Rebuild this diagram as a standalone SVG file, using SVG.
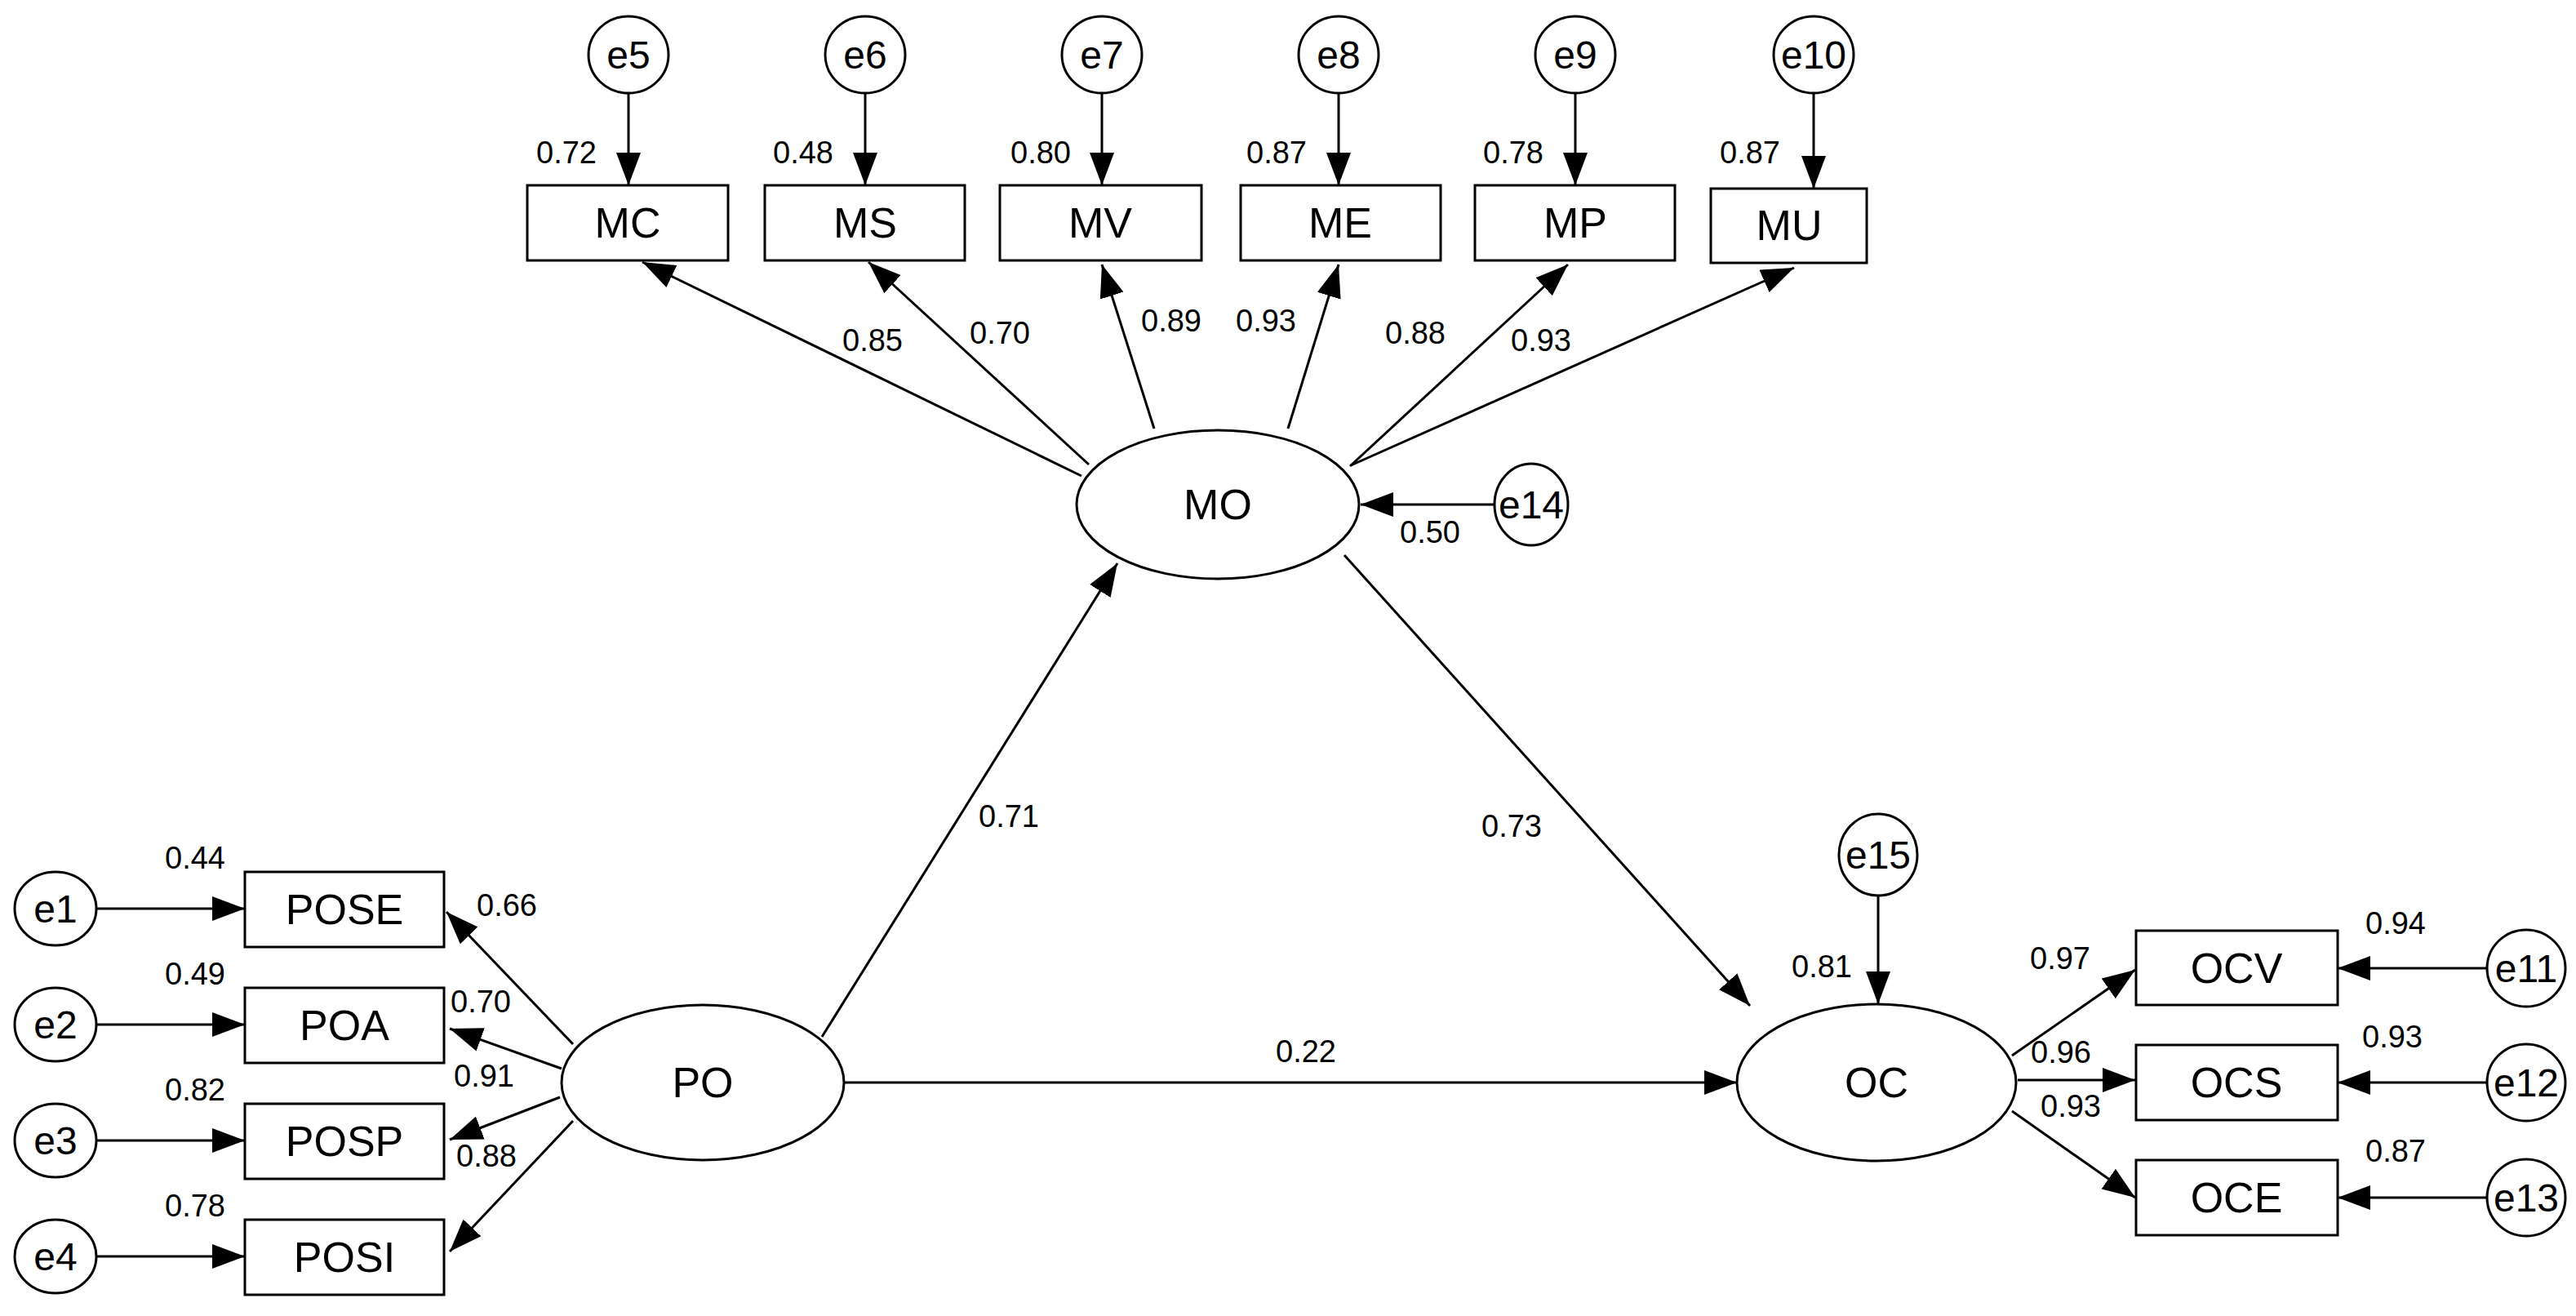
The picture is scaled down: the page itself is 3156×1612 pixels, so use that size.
<svg xmlns="http://www.w3.org/2000/svg" width="3156" height="1612" viewBox="0 0 3156 1612">
<style>
.n{fill:#fff;stroke:#000;stroke-width:3}
.t{font-family:"Liberation Sans",Arial,sans-serif;font-size:52px;text-anchor:middle;dominant-baseline:central;fill:#000}
.e{font-family:"Liberation Sans",Arial,sans-serif;font-size:48px;text-anchor:middle;dominant-baseline:central;fill:#000}
.l{font-family:"Liberation Sans",Arial,sans-serif;font-size:38px;text-anchor:middle;dominant-baseline:central;fill:#000}
.c line{stroke:#000;stroke-width:3;marker-end:url(#a)}
</style>
<defs><marker id="a" markerUnits="userSpaceOnUse" markerWidth="42" markerHeight="30" refX="40" refY="15" orient="auto"><path d="M0,0 L40,15 L0,30 z" fill="#000"/></marker></defs>
<rect width="3156" height="1612" fill="#fff"/>
<g class="c" id="connectors">
<line x1="770" y1="114" x2="770" y2="227"/>
<line x1="1060" y1="114" x2="1060" y2="227"/>
<line x1="1350" y1="114" x2="1350" y2="227"/>
<line x1="1640" y1="114" x2="1640" y2="227"/>
<line x1="1930" y1="114" x2="1930" y2="227"/>
<line x1="2222" y1="114" x2="2222" y2="231"/>
<line x1="1325" y1="583" x2="787" y2="321"/>
<line x1="1334" y1="569" x2="1064" y2="321"/>
<line x1="1414" y1="525" x2="1350" y2="324"/>
<line x1="1578" y1="525" x2="1640" y2="324"/>
<line x1="1654" y1="571" x2="1921" y2="324"/>
<line x1="1655" y1="570" x2="2198" y2="328"/>
<line x1="1831" y1="618" x2="1667" y2="618"/>
<line x1="118" y1="1113" x2="300" y2="1113"/>
<line x1="118" y1="1255" x2="300" y2="1255"/>
<line x1="118" y1="1397" x2="300" y2="1397"/>
<line x1="118" y1="1539" x2="300" y2="1539"/>
<line x1="702" y1="1279" x2="547" y2="1117"/>
<line x1="688" y1="1309" x2="551" y2="1260"/>
<line x1="686" y1="1344" x2="551" y2="1396"/>
<line x1="702" y1="1373" x2="551" y2="1533"/>
<line x1="1007" y1="1270" x2="1369" y2="690"/>
<line x1="1033" y1="1326" x2="2128" y2="1326"/>
<line x1="1647" y1="680" x2="2144" y2="1232"/>
<line x1="2301" y1="1097" x2="2301" y2="1230"/>
<line x1="2465" y1="1293" x2="2616" y2="1188"/>
<line x1="2472" y1="1323" x2="2616" y2="1323"/>
<line x1="2465" y1="1361" x2="2616" y2="1467"/>
<line x1="3047" y1="1186" x2="2864" y2="1186"/>
<line x1="3047" y1="1326" x2="2864" y2="1326"/>
<line x1="3047" y1="1467" x2="2864" y2="1467"/>
</g>
<g id="e5"><ellipse class="n" cx="770" cy="67" rx="49" ry="47"/><text class="e" x="770" y="67">e5</text></g>
<g id="e6"><ellipse class="n" cx="1060" cy="67" rx="49" ry="47"/><text class="e" x="1060" y="67">e6</text></g>
<g id="e7"><ellipse class="n" cx="1350" cy="67" rx="49" ry="47"/><text class="e" x="1350" y="67">e7</text></g>
<g id="e8"><ellipse class="n" cx="1640" cy="67" rx="49" ry="47"/><text class="e" x="1640" y="67">e8</text></g>
<g id="e9"><ellipse class="n" cx="1930" cy="67" rx="49" ry="47"/><text class="e" x="1930" y="67">e9</text></g>
<g id="e10"><ellipse class="n" cx="2222" cy="67" rx="49" ry="47"/><text class="e" x="2222" y="67">e10</text></g>
<g id="MC"><rect class="n" x="646" y="227" width="246" height="92"/><text class="t" x="769" y="273">MC</text></g>
<g id="MS"><rect class="n" x="937" y="227" width="245" height="92"/><text class="t" x="1060" y="273">MS</text></g>
<g id="MV"><rect class="n" x="1225" y="227" width="247" height="92"/><text class="t" x="1348" y="273">MV</text></g>
<g id="ME"><rect class="n" x="1520" y="227" width="245" height="92"/><text class="t" x="1642" y="273">ME</text></g>
<g id="MP"><rect class="n" x="1807" y="227" width="245" height="92"/><text class="t" x="1930" y="273">MP</text></g>
<g id="MU"><rect class="n" x="2096" y="231" width="191" height="91"/><text class="t" x="2192" y="276">MU</text></g>
<g id="MO"><ellipse class="n" cx="1492" cy="618" rx="173" ry="91"/><text class="t" x="1492" y="618">MO</text></g>
<g id="e14"><ellipse class="n" cx="1876" cy="618" rx="45" ry="50"/><text class="e" x="1876" y="618">e14</text></g>
<g id="PO"><ellipse class="n" cx="861" cy="1326" rx="173" ry="95"/><text class="t" x="861" y="1326">PO</text></g>
<g id="OC"><ellipse class="n" cx="2299" cy="1326" rx="171" ry="96"/><text class="t" x="2299" y="1326">OC</text></g>
<g id="e15"><ellipse class="n" cx="2301" cy="1047" rx="48" ry="50"/><text class="e" x="2301" y="1047">e15</text></g>
<g id="e1"><ellipse class="n" cx="68" cy="1113" rx="50" ry="45"/><text class="e" x="68" y="1113">e1</text></g>
<g id="e2"><ellipse class="n" cx="68" cy="1255" rx="50" ry="45"/><text class="e" x="68" y="1255">e2</text></g>
<g id="e3"><ellipse class="n" cx="68" cy="1397" rx="50" ry="45"/><text class="e" x="68" y="1397">e3</text></g>
<g id="e4"><ellipse class="n" cx="68" cy="1539" rx="50" ry="45"/><text class="e" x="68" y="1539">e4</text></g>
<g id="POSE"><rect class="n" x="300" y="1068" width="244" height="92"/><text class="t" x="422" y="1114">POSE</text></g>
<g id="POA"><rect class="n" x="300" y="1210" width="244" height="92"/><text class="t" x="422" y="1256">POA</text></g>
<g id="POSP"><rect class="n" x="300" y="1352" width="244" height="92"/><text class="t" x="422" y="1398">POSP</text></g>
<g id="POSI"><rect class="n" x="300" y="1494" width="244" height="92"/><text class="t" x="422" y="1540">POSI</text></g>
<g id="OCV"><rect class="n" x="2617" y="1140" width="247" height="91"/><text class="t" x="2740" y="1186">OCV</text></g>
<g id="OCS"><rect class="n" x="2617" y="1280" width="247" height="92"/><text class="t" x="2740" y="1326">OCS</text></g>
<g id="OCE"><rect class="n" x="2617" y="1421" width="247" height="92"/><text class="t" x="2740" y="1467">OCE</text></g>
<g id="e11"><ellipse class="n" cx="3095" cy="1186" rx="48" ry="47"/><text class="e" x="3095" y="1186">e11</text></g>
<g id="e12"><ellipse class="n" cx="3095" cy="1326" rx="48" ry="47"/><text class="e" x="3095" y="1326">e12</text></g>
<g id="e13"><ellipse class="n" cx="3095" cy="1467" rx="48" ry="47"/><text class="e" x="3095" y="1467">e13</text></g>
<g id="labels">
<text class="l" x="694" y="187">0.72</text>
<text class="l" x="984" y="187">0.48</text>
<text class="l" x="1275" y="187">0.80</text>
<text class="l" x="1564" y="187">0.87</text>
<text class="l" x="1854" y="187">0.78</text>
<text class="l" x="2144" y="187">0.87</text>
<text class="l" x="1069" y="417">0.85</text>
<text class="l" x="1225" y="408">0.70</text>
<text class="l" x="1435" y="393">0.89</text>
<text class="l" x="1551" y="393">0.93</text>
<text class="l" x="1734" y="408">0.88</text>
<text class="l" x="1888" y="417">0.93</text>
<text class="l" x="1752" y="652">0.50</text>
<text class="l" x="239" y="1051">0.44</text>
<text class="l" x="239" y="1193">0.49</text>
<text class="l" x="239" y="1335">0.82</text>
<text class="l" x="239" y="1477">0.78</text>
<text class="l" x="621" y="1109">0.66</text>
<text class="l" x="589" y="1227">0.70</text>
<text class="l" x="593" y="1318">0.91</text>
<text class="l" x="596" y="1416">0.88</text>
<text class="l" x="1236" y="1000">0.71</text>
<text class="l" x="1600" y="1288">0.22</text>
<text class="l" x="1852" y="1012">0.73</text>
<text class="l" x="2232" y="1184">0.81</text>
<text class="l" x="2524" y="1174">0.97</text>
<text class="l" x="2525" y="1289">0.96</text>
<text class="l" x="2537" y="1355">0.93</text>
<text class="l" x="2935" y="1131">0.94</text>
<text class="l" x="2931" y="1270">0.93</text>
<text class="l" x="2935" y="1410">0.87</text>
</g>
</svg>
